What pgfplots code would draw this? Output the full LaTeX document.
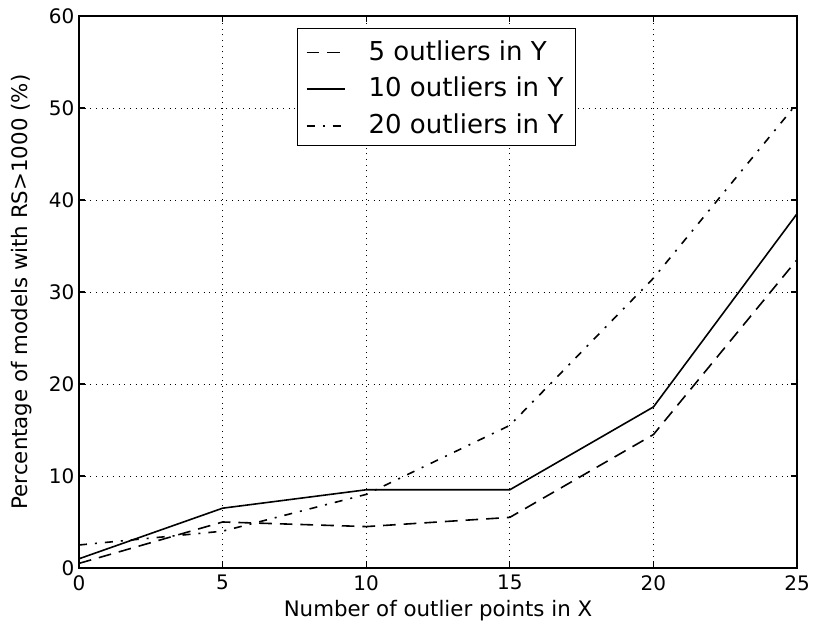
\documentclass[border=0pt]{standalone}
\usepackage{fontspec}
\setmainfont{DejaVu Sans}
\usepackage{pgfplots}
\pgfplotsset{compat=1.18}
\begin{document}
\begin{tikzpicture}
\begin{axis}[
  scale only axis,
  width=538.5pt, height=414pt,
  xmin=0, xmax=25, ymin=0, ymax=60,
  xtick={0,5,10,15,20,25},
  ytick={0,10,20,30,40,50,60},
  /pgf/number format/assume math mode=true,
  tick label style={font=\fontsize{15}{18}\selectfont},
  label style={font=\fontsize{16}{19}\selectfont},
  xlabel={Number of outlier points in X},
  ylabel={Percentage of models with RS>1000 (\%)},
  ylabel style={at={(axis description cs:-0.0794,0.5)},anchor=center},
  xlabel style={at={(axis description cs:0.5,-0.0505)},anchor=north},
  xticklabel style={yshift=-2pt},
  axis line style={line width=1.1pt},
  major tick style={line width=0.8pt, black},
  major tick length=4.5pt,
  grid=major,
  major grid style={black, line width=0.6pt, dash pattern=on 0.75pt off 3.5pt},
  legend style={at={(axis description cs:0.498,0.978)}, anchor=north,
    draw=black, line width=0.9pt, font=\fontsize{19.5}{23}\selectfont,
    inner xsep=6pt, inner ysep=4pt, row sep=3pt, column sep=2pt,
    nodes={inner sep=3pt, text height=14.5pt, text depth=4pt}},
  legend cell align=left,
  legend image code/.code={\draw[#1] (0pt,-1.5pt) -- (29pt,-1.5pt);},
]
\addplot[black, line width=1.2pt, dash pattern=on 9.5pt off 6pt] coordinates {
  (0,0.5) (5,5) (10,4.5) (15,5.5) (20,14.5) (25,33.5)};
\addlegendentry{\hspace{12pt}\raisebox{-2pt}{5 outliers in Y}}
\addplot[black, line width=1.2pt] coordinates {
  (0,1) (5,6.5) (10,8.5) (15,8.5) (20,17.5) (25,38.5)};
\addlegendentry{\hspace{12pt}\raisebox{-2pt}{10 outliers in Y}}
\addplot[black, line width=1.2pt, dash pattern=on 6pt off 6pt on 1.5pt off 6pt] coordinates {
  (0,2.5) (5,4) (10,8) (15,15.5) (20,31.5) (25,50.5)};
\addlegendentry{\hspace{12pt}\raisebox{-2pt}{20 outliers in Y}}
\end{axis}
\pgfresetboundingbox
\path[use as bounding box] ([xshift=-59.25pt,yshift=-42pt]current axis.south west) rectangle ([xshift=12pt,yshift=12pt]current axis.north east);
\end{tikzpicture}
\end{document}
